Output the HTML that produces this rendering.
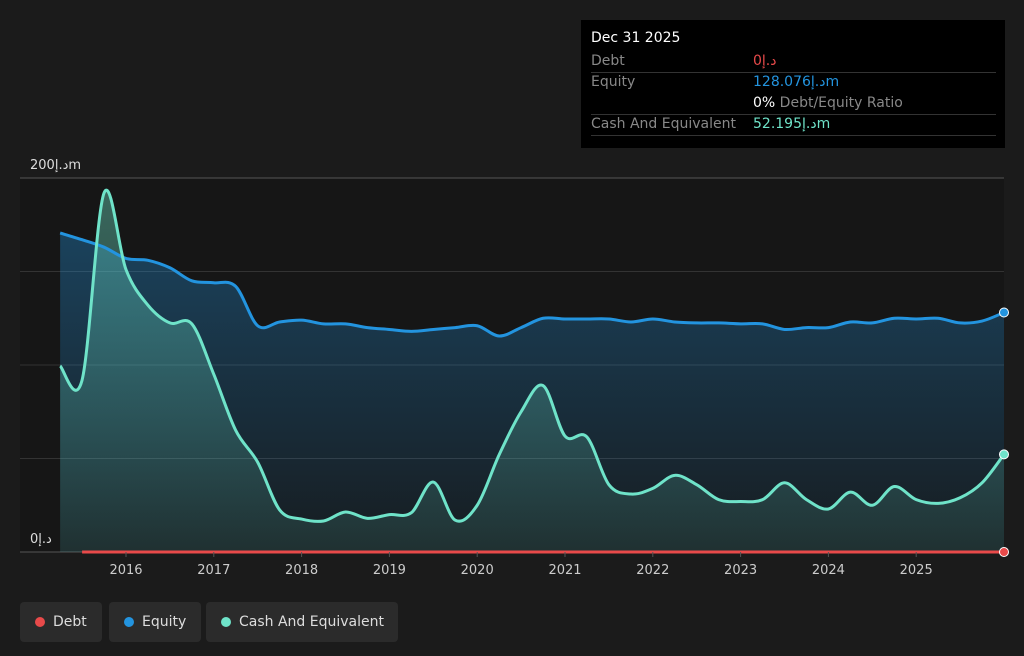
<!DOCTYPE html>
<html><head><meta charset="utf-8">
<style>
body{margin:0;background:#1b1b1b;width:1024px;height:656px;overflow:hidden;font-family:"DejaVu Sans","Liberation Sans",sans-serif;}
#tip{position:absolute;left:581px;top:20px;width:424px;height:128px;background:#000;color:#fff;font-size:14px;}
.row{position:absolute;left:10px;width:405px;border-bottom:1px solid #333;height:21px;}
.lab{position:absolute;left:0;top:2px;color:#888;}
.val{position:absolute;left:162px;top:2px;}
.leg{position:absolute;top:602px;height:40px;background:#2b2b2b;border-radius:4px;color:#ddd;font-size:14px;line-height:40px;}
.dot{display:inline-block;width:10px;height:10px;border-radius:5px;margin:0 8px 0 15px;vertical-align:-1px;}
</style></head><body>
<svg id="chart" width="1024" height="656" style="position:absolute;left:0;top:0">
<defs>
<linearGradient id="ge" x1="0" y1="0" x2="0" y2="1"><stop offset="0" stop-color="#2394df" stop-opacity="0.35"/><stop offset="1" stop-color="#2394df" stop-opacity="0.05"/></linearGradient>
<linearGradient id="gc" x1="0" y1="0" x2="0" y2="1"><stop offset="0" stop-color="#6fe3c9" stop-opacity="0.4"/><stop offset="1" stop-color="#6fe3c9" stop-opacity="0.1"/></linearGradient>
</defs>
<rect x="20" y="178" width="984" height="374" fill="#161616"/>
<g id="grid"></g><g id="areas"></g><g id="lines"></g><g id="xt"></g>
<text x="30" y="169" fill="#ddd" font-size="13">200د.إm</text>
<text x="30" y="543" fill="#ddd" font-size="13">0د.إ</text>
</svg>
<div id="tip">
<div style="position:absolute;left:10px;top:10px;font-size:14px">Dec 31 2025</div>
<div class="row" style="top:31px"><span class="lab">Debt</span><span class="val" style="color:#e84a4a">0د.إ</span></div>
<div class="row" style="top:52px;border:none"><span class="lab">Equity</span><span class="val" style="color:#2394df">128.076د.إm</span></div>
<div class="row" style="top:73px"><span class="val"><span style="color:#fff">0%</span> <span style="color:#888">Debt/Equity Ratio</span></span></div>
<div class="row" style="top:94px"><span class="lab">Cash And Equivalent</span><span class="val" style="color:#6fe3c9">52.195د.إm</span></div>
</div>
<div class="leg" style="left:20px;width:82px"><span class="dot" style="background:#e84a4a"></span>Debt</div>
<div class="leg" style="left:109px;width:92px"><span class="dot" style="background:#2394df"></span>Equity</div>
<div class="leg" style="left:206px;width:192px"><span class="dot" style="background:#6fe3c9"></span>Cash And Equivalent</div>
<script>
const times=[2015.25,2015.5,2015.75,2016,2016.25,2016.5,2016.75,2017,2017.25,2017.5,2017.75,2018,2018.25,2018.5,2018.75,2019,2019.25,2019.5,2019.75,2020,2020.25,2020.5,2020.75,2021,2021.25,2021.5,2021.75,2022,2022.25,2022.5,2022.75,2023,2023.25,2023.5,2023.75,2024,2024.25,2024.5,2024.75,2025,2025.25,2025.5,2025.75,2026];
const equity=[170.6,167,163,157,156,152,145,144,142,121,123,124,122,122,120,119,118,119,120,121,115.5,120,125,124.6,124.6,124.6,123,124.6,123,122.5,122.5,122,122,119,120,120,123,122.5,125,124.6,125,122.5,123.5,128.076];
const cash=[99.5,92,192,151,132,122.5,122,95,65,48,22.5,17.6,16.6,21.4,18,20,21,37.4,17,25,52,75,89,62,61.5,36,31,34,41,36,28,27,28,37,28,23,32,25,35,28,26,29,37,52.195];
const debtTimes=[2015.5,2026];
const debt=[0,0];
const years=[2016,2017,2018,2019,2020,2021,2022,2023,2024,2025];
const NS="http://www.w3.org/2000/svg";
const X=t=>126+(t-2016)*87.8, Y=v=>552-v*1.87;
function el(tag,attrs,parent){const e=document.createElementNS(NS,tag);for(const k in attrs)e.setAttribute(k,attrs[k]);document.getElementById(parent).appendChild(e);return e;}
function smooth(ts,vs){const p=ts.map((t,i)=>[X(t),Y(vs[i])]);let d="M"+p[0][0]+","+p[0][1];
for(let i=0;i<p.length-1;i++){const p0=p[Math.max(i-1,0)],p1=p[i],p2=p[i+1],p3=p[Math.min(i+2,p.length-1)];
d+=` C${p1[0]+(p2[0]-p0[0])/6},${p1[1]+(p2[1]-p0[1])/6} ${p2[0]-(p3[0]-p1[0])/6},${p2[1]-(p3[1]-p1[1])/6} ${p2[0]},${p2[1]}`;}return d;}
for(let v=0;v<=200;v+=50){const g=el("line",{x1:20,x2:1004,y1:Y(v),y2:Y(v),stroke:v==200||v==0?"#555":"#333"},"grid");

}
years.forEach(y=>{const t=el("text",{x:X(y),y:574,fill:"#ccc","font-size":13,"text-anchor":"middle"},"xt");t.textContent=y;


const l=el("line",{x1:X(y),x2:X(y),y1:552,y2:557,stroke:"#555"},"xt");

});
const ed=smooth(times,equity), cd=smooth(times,cash);
const base=` L${X(2026)},${Y(0)} L${X(2015.25)},${Y(0)} Z`;
const ea=el("path",{d:ed+base,fill:"url(#ge)"},"areas");


const ca=el("path",{d:cd+base,fill:"url(#gc)"},"areas");


const el1=el("path",{d:ed,fill:"none",stroke:"#2394df","stroke-width":3},"lines");


const cl=el("path",{d:cd,fill:"none",stroke:"#6fe3c9","stroke-width":3},"lines");


const dl=el("path",{d:smooth(debtTimes,debt),fill:"none",stroke:"#e84a4a","stroke-width":3},"lines");


[[debt,"#e84a4a","debt-end-point"],[equity,"#2394df","equity-end-point"],[cash,"#6fe3c9","cash-end-point"]].forEach(([a,c,n])=>{
const p=el("circle",{cx:X(2026),cy:Y(a[a.length-1]),r:4.5,fill:c,stroke:"#fff","stroke-width":1},"lines");

});
</script>
</body></html>
